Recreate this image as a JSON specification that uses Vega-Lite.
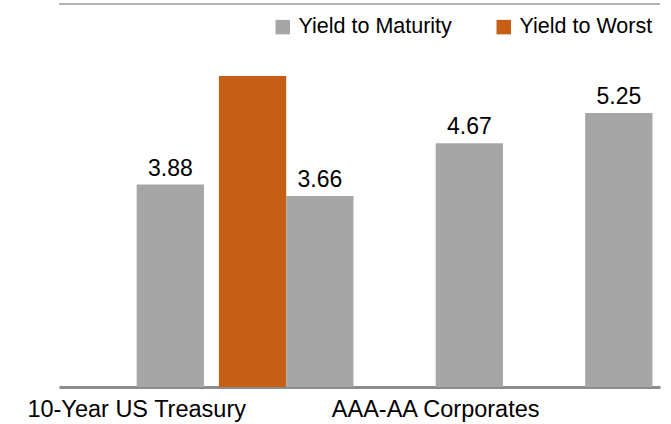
{
  "$schema": "https://vega.github.io/schema/vega-lite/v6.json",
  "width": 601,
  "height": 383,
  "autosize": "none",
  "padding": {"left": 59, "top": 4, "right": 11, "bottom": 37},
  "background": "white",
  "config": {"view": {"stroke": null}, "font": "Liberation Sans"},
  "data": {"values": [
    {"category": "10-Year US Treasury", "series": "Yield to Maturity", "value": 3.88},
    {"category": "Category 2", "series": "Yield to Worst", "value": 5.96},
    {"category": "Category 2", "series": "Yield to Maturity", "value": 3.66},
    {"category": "AAA-AA Corporates", "series": "Yield to Maturity", "value": 4.67},
    {"category": "Category 4", "series": "Yield to Maturity", "value": 5.25}
  ]},
  "encoding": {
    "y": {"field": "value", "type": "quantitative", "scale": {"domain": [0, 7.34], "nice": false, "zero": true}, "axis": null}
  },
  "layer": [
    {
      "mark": {"type": "bar"},
      "encoding": {
        "x": {"field": "category", "type": "nominal", "sort": null,
          "scale": {"paddingInner": 0.1, "paddingOuter": 0.06, "align": 0.58},
          "axis": {"title": null, "labelAngle": 0, "ticks": false, "tickSize": 0, "labelPadding": 29,
            "labelBaseline": "alphabetic", "labelFontSize": 23.5, "labelColor": "#000", "labelLimit": 0,
            "labelOverlap": false, "domainColor": "#8c8c8c", "domainWidth": 3,
            "labelExpr": "datum.value == '10-Year US Treasury' || datum.value == 'AAA-AA Corporates' ? datum.label : ''"}},
        "xOffset": {"field": "series", "sort": ["Yield to Worst", "Yield to Maturity"], "scale": {"paddingInner": 0, "paddingOuter": 0}},
        "color": {"field": "series", "type": "nominal",
          "scale": {"domain": ["Yield to Maturity", "Yield to Worst"], "range": ["#a6a6a6", "#c55f15"]},
          "legend": {"title": null, "orient": "none", "legendX": 213, "legendY": 12, "direction": "horizontal",
            "symbolType": "square", "symbolSize": 210, "symbolStrokeWidth": 0, "symbolOpacity": 1,
            "labelFontSize": 21.5, "labelColor": "#000", "labelLimit": 0, "columnPadding": 41,
            "labelOffset": 5, "padding": 0}}
      }
    },
    {
      "transform": [{"filter": "datum.series === 'Yield to Maturity'"}],
      "mark": {"type": "text", "baseline": "alphabetic", "dy": -9, "fontSize": 23, "color": "#000"},
      "encoding": {
        "x": {"field": "category", "type": "nominal", "sort": null},
        "xOffset": {"field": "series", "sort": ["Yield to Worst", "Yield to Maturity"]},
        "text": {"field": "value", "type": "quantitative", "format": ".2f"}
      }
    },
    {
      "data": {"values": [{"top": 7.34}]},
      "mark": {"type": "rule", "color": "#b3b3b3", "strokeWidth": 2},
      "encoding": {"y": {"field": "top", "type": "quantitative"}}
    }
  ]
}
